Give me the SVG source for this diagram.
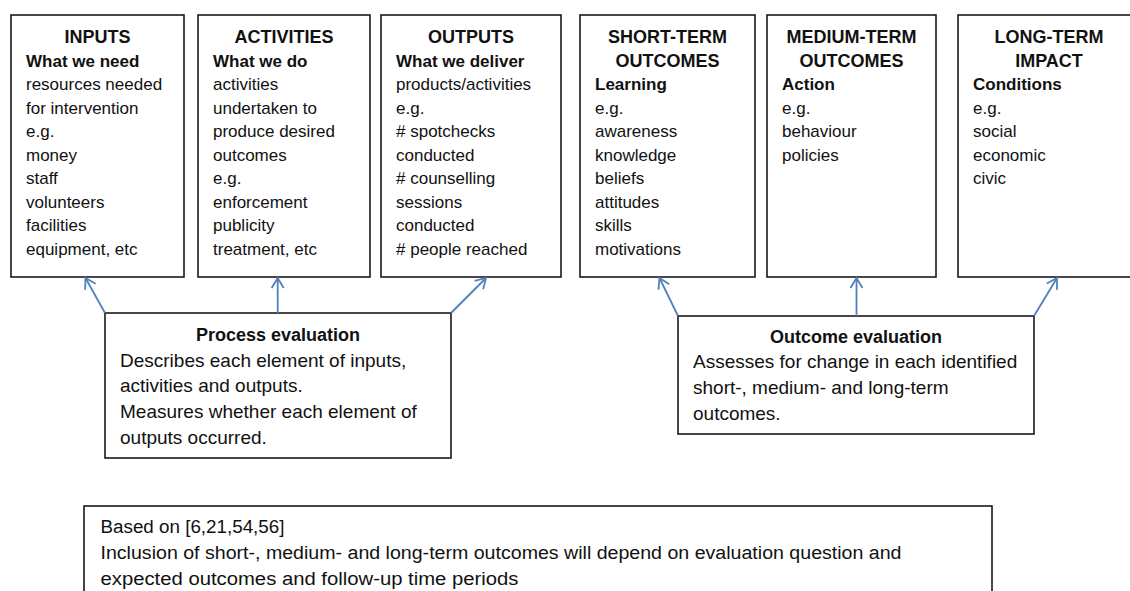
<svg xmlns="http://www.w3.org/2000/svg" width="1130" height="591" viewBox="0 0 1130 591">
<defs>
<style>
.box{fill:#fff;stroke:#1a1a1a;stroke-width:1.6}
.t{font-family:"Liberation Sans",Arial,sans-serif;font-size:17px;fill:#111}
.b{font-weight:bold}
.ttl{font-family:"Liberation Sans",Arial,sans-serif;font-size:18px;font-weight:bold;fill:#111;text-anchor:middle}
.e{font-family:"Liberation Sans",Arial,sans-serif;font-size:19px;fill:#111}
.et{font-family:"Liberation Sans",Arial,sans-serif;font-size:18px;font-weight:bold;fill:#111;text-anchor:middle}
.f{font-family:"Liberation Sans",Arial,sans-serif;font-size:18px;fill:#111}
.c{stroke:#4f81bd;stroke-width:1.8;fill:none;marker-end:url(#ah)}
</style>
<marker id="ah" markerUnits="userSpaceOnUse" markerWidth="24" markerHeight="24" refX="0" refY="0" viewBox="-12 -12 24 24" orient="auto">
<path d="M -10 -6 L 0 0 L -10 6" fill="none" stroke="#4f81bd" stroke-width="1.8"/>
</marker>
</defs>
<rect width="1130" height="591" fill="#fff"/>

<g id="inputs">
<rect class="box" x="11" y="15" width="173" height="262"/>
<text class="ttl" x="97.5" y="43">INPUTS</text>
<text class="t"><tspan class="b" x="26" y="66.5">What we need</tspan><tspan x="26" y="90">resources needed</tspan><tspan x="26" y="113.7">for intervention</tspan><tspan x="26" y="137.2">e.g.</tspan><tspan x="26" y="160.8">money</tspan><tspan x="26" y="184.3">staff</tspan><tspan x="26" y="207.9">volunteers</tspan><tspan x="26" y="231.4">facilities</tspan><tspan x="26" y="255">equipment, etc</tspan></text>
</g>

<g id="activities">
<rect class="box" x="198" y="15" width="172" height="262"/>
<text class="ttl" x="284" y="43">ACTIVITIES</text>
<text class="t"><tspan class="b" x="213" y="66.5">What we do</tspan><tspan x="213" y="90">activities</tspan><tspan x="213" y="113.7">undertaken to</tspan><tspan x="213" y="137.2">produce desired</tspan><tspan x="213" y="160.8">outcomes</tspan><tspan x="213" y="184.3">e.g.</tspan><tspan x="213" y="207.9">enforcement</tspan><tspan x="213" y="231.4">publicity</tspan><tspan x="213" y="255">treatment, etc</tspan></text>
</g>

<g id="outputs">
<rect class="box" x="381" y="15" width="180" height="262"/>
<text class="ttl" x="471" y="43">OUTPUTS</text>
<text class="t"><tspan class="b" x="396" y="66.5">What we deliver</tspan><tspan x="396" y="90">products/activities</tspan><tspan x="396" y="113.7">e.g.</tspan><tspan x="396" y="137.2"># spotchecks</tspan><tspan x="396" y="160.8">conducted</tspan><tspan x="396" y="184.3"># counselling</tspan><tspan x="396" y="207.9">sessions</tspan><tspan x="396" y="231.4">conducted</tspan><tspan x="396" y="255"># people reached</tspan></text>
</g>

<g id="short-term">
<rect class="box" x="580" y="15" width="175" height="262"/>
<text class="ttl"><tspan x="667.5" y="43">SHORT-TERM</tspan><tspan x="667.5" y="66.5">OUTCOMES</tspan></text>
<text class="t"><tspan class="b" x="595" y="90">Learning</tspan><tspan x="595" y="113.7">e.g.</tspan><tspan x="595" y="137.2">awareness</tspan><tspan x="595" y="160.8">knowledge</tspan><tspan x="595" y="184.3">beliefs</tspan><tspan x="595" y="207.9">attitudes</tspan><tspan x="595" y="231.4">skills</tspan><tspan x="595" y="255">motivations</tspan></text>
</g>

<g id="medium-term">
<rect class="box" x="767" y="15" width="169" height="262"/>
<text class="ttl"><tspan x="851.5" y="43">MEDIUM-TERM</tspan><tspan x="851.5" y="66.5">OUTCOMES</tspan></text>
<text class="t"><tspan class="b" x="782" y="90">Action</tspan><tspan x="782" y="113.7">e.g.</tspan><tspan x="782" y="137.2">behaviour</tspan><tspan x="782" y="160.8">policies</tspan></text>
</g>

<g id="long-term">
<rect class="box" x="958" y="15" width="185" height="262"/>
<text class="ttl"><tspan x="1049" y="43">LONG-TERM</tspan><tspan x="1049" y="66.5">IMPACT</tspan></text>
<text class="t"><tspan class="b" x="973" y="90">Conditions</tspan><tspan x="973" y="113.7">e.g.</tspan><tspan x="973" y="137.2">social</tspan><tspan x="973" y="160.8">economic</tspan><tspan x="973" y="184.3">civic</tspan></text>
</g>

<g id="process-evaluation">
<rect class="box" x="105" y="313" width="346" height="145"/>
<text class="et" x="278" y="341">Process evaluation</text>
<text class="e"><tspan x="120" y="366.7">Describes each element of inputs,</tspan><tspan x="120" y="392.4">activities and outputs.</tspan><tspan x="120" y="418.1">Measures whether each element of</tspan><tspan x="120" y="443.8">outputs occurred.</tspan></text>
</g>

<g id="outcome-evaluation">
<rect class="box" x="678" y="316" width="356" height="118"/>
<text class="et" x="856" y="342.7">Outcome evaluation</text>
<text class="e"><tspan x="693" y="368.4">Assesses for change in each identified</tspan><tspan x="693" y="394.1">short-, medium- and long-term</tspan><tspan x="693" y="419.8">outcomes.</tspan></text>
</g>

<g id="note">
<rect class="box" x="84" y="506" width="908" height="100"/>
<text class="f" x="100.5" y="533" textLength="184" lengthAdjust="spacingAndGlyphs">Based on [6,21,54,56]</text>
<text class="f" x="100.5" y="559" textLength="801" lengthAdjust="spacingAndGlyphs">Inclusion of short-, medium- and long-term outcomes will depend on evaluation question and</text>
<text class="f" x="100.5" y="584.5" textLength="418" lengthAdjust="spacingAndGlyphs">expected outcomes and follow-up time periods</text>
</g>

<g id="connectors">
<line class="c" x1="105" y1="313" x2="85.5" y2="278"/>
<line class="c" x1="277.7" y1="313" x2="277.7" y2="278"/>
<line class="c" x1="451" y1="313" x2="486" y2="278"/>
<line class="c" x1="678" y1="316" x2="659.5" y2="278"/>
<line class="c" x1="856.5" y1="316" x2="856.5" y2="278"/>
<line class="c" x1="1034" y1="316" x2="1057" y2="278"/>
</g>
</svg>
